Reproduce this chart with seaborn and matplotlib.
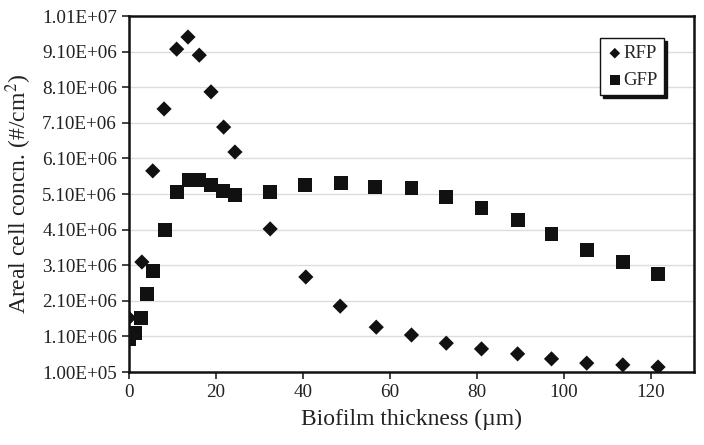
import matplotlib
matplotlib.use("Agg")
import matplotlib.pyplot as plt
import numpy as np
import pandas as pd
import seaborn as sns

# Data
rfp_thickness = [0.0, 3.0, 5.5, 8.1, 11.0, 13.6, 16.2, 18.9, 21.8, 24.4, 32.5, 40.7, 48.6,
                 56.9, 65.0, 73.0, 81.1, 89.4, 97.2, 105.3, 113.6, 121.7]
rfp_conc = [1.62e6, 3.19e6, 5.75e6, 7.49e6, 9.17e6, 9.51e6, 9.00e6, 7.97e6, 6.98e6, 6.28e6,
            4.12e6, 2.77e6, 1.95e6, 1.36e6, 1.14e6, 0.91e6, 0.75e6, 0.61e6, 0.47e6, 0.35e6,
            0.30e6, 0.24e6]
gfp_thickness = [0.0, 1.5, 2.8, 4.2, 5.5, 8.3, 11.0, 13.8, 16.2, 18.9, 21.6, 24.4, 32.5,
                 40.6, 48.8, 56.7, 65.0, 73.0, 81.1, 89.4, 97.2, 105.3, 113.6, 121.7]
gfp_conc = [1.03e6, 1.20e6, 1.62e6, 2.29e6, 2.94e6, 4.09e6, 5.16e6, 5.49e6, 5.49e6, 5.35e6,
            5.18e6, 5.07e6, 5.16e6, 5.35e6, 5.41e6, 5.30e6, 5.27e6, 5.02e6, 4.71e6, 4.37e6,
            3.98e6, 3.53e6, 3.19e6, 2.85e6]
x_ticks = [0, 20, 40, 60, 80, 100, 120]
y_ticks = [1.0e5 + k * 1.0e6 for k in range(11)]

df = pd.DataFrame({
    "thickness": rfp_thickness + gfp_thickness,
    "conc": rfp_conc + gfp_conc,
    "protein": ["RFP"] * len(rfp_thickness) + ["GFP"] * len(gfp_thickness),
})

sns.set_theme(style="white")
plt.rcParams["font.family"] = ["Liberation Serif", "DejaVu Serif"]
plt.rcParams["mathtext.fontset"] = "stix"

fig = plt.figure(figsize=(7.04, 4.45), dpi=100)
ax = fig.add_axes([0.183, 0.164, 0.803, 0.800])

for y in y_ticks[1:-1]:
    ax.axhline(y, color="#dcdcdc", linewidth=1.0, zorder=0)

rfp = df[df["protein"] == "RFP"]
gfp = df[df["protein"] == "GFP"]
sns.scatterplot(data=rfp, x="thickness", y="conc", marker="D", s=60, color="#111111",
                edgecolor="none", label="RFP", ax=ax, zorder=3)
sns.scatterplot(data=gfp, x="thickness", y="conc", marker="s", s=100, color="#111111",
                edgecolor="none", label="GFP", ax=ax, zorder=3)

ax.set_xlim(0, 130)
ax.set_ylim(1.0e5, 1.01e7)
ax.set_xticks(x_ticks)
ax.set_yticks(y_ticks)
ax.set_yticklabels(["{:.2E}".format(v) for v in y_ticks])
ax.tick_params(axis="both", labelsize=13.8, colors="#222222", length=5, width=1.2,
               direction="out", left=True, bottom=True)
ax.set_xlabel("Biofilm thickness (µm)", fontsize=17, color="#222222", labelpad=6)
ax.set_ylabel("Areal cell concn. (#/cm$^2$)", fontsize=17, color="#222222", labelpad=6)

for side in ["left", "bottom", "top", "right"]:
    ax.spines[side].set_color("#111111")
    ax.spines[side].set_linewidth(1.8)

# boxed legend with a dark drop shadow
leg = ax.legend(loc="upper right", bbox_to_anchor=(0.947, 0.937), frameon=True, fancybox=False,
                shadow={"color": "#111111", "alpha": 1.0}, fontsize=13.5,
                handletextpad=0.0, handlelength=0.9, borderpad=0.35, labelspacing=0.5,
                borderaxespad=0.0, markerscale=0.7)
leg.get_frame().set_edgecolor("#111111")
leg.get_frame().set_linewidth(1.0)

fig.savefig("out.png", dpi=100)
